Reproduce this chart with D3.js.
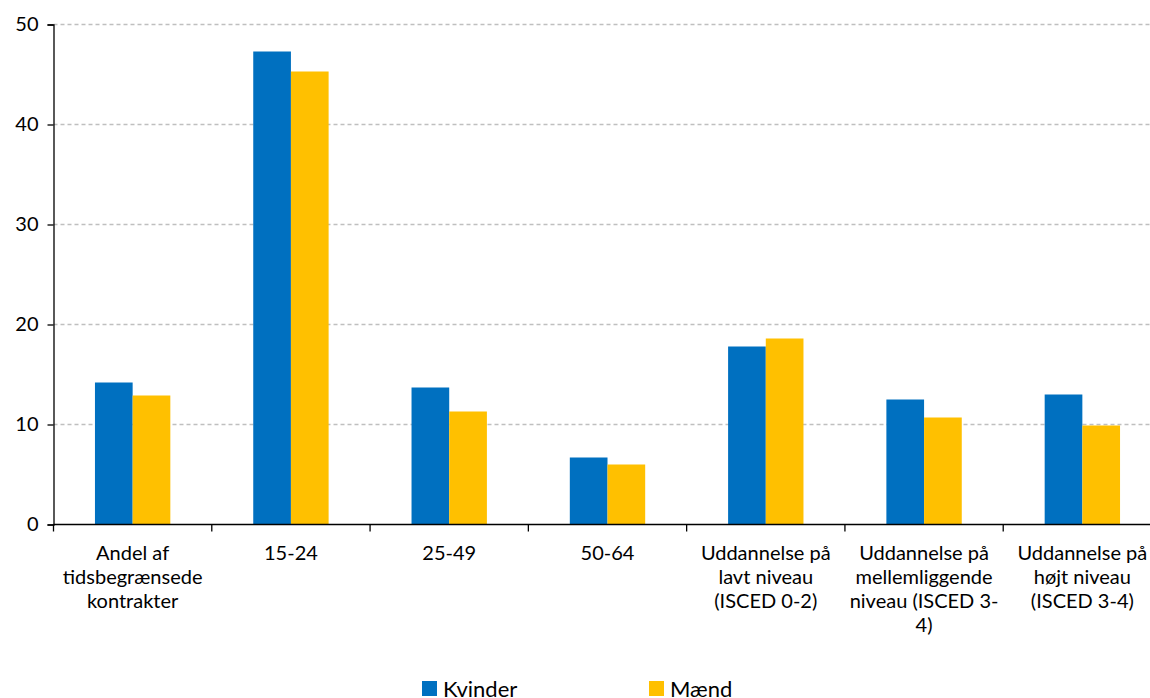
<!DOCTYPE html>
<html>
<head>
<meta charset="utf-8">
<script src="https://cdn.jsdelivr.net/npm/d3@7"></script>
<style>
  body { margin: 0; background: #fff; }
  svg { display: block; }
  text { font-family: Lato, "Open Sans", sans-serif; fill: #000; }
</style>
</head>
<body>
<svg id="chart" width="1150" height="698"></svg>
<script>
// Category labels (line-broken as they appear under the axis)
const categories = [
  ["Andel af", "tidsbegrænsede", "kontrakter"],
  ["15-24"],
  ["25-49"],
  ["50-64"],
  ["Uddannelse på", "lavt niveau", "(ISCED 0-2)"],
  ["Uddannelse på", "mellemliggende", "niveau (ISCED 3-", "4)"],
  ["Uddannelse på", "højt niveau", "(ISCED 3-4)"]
];
const seriesNames = ["Kvinder", "Mænd"];
const kvinder = [14.2, 47.3, 13.7, 6.7, 17.8, 12.5, 13.0];
const maend   = [12.9, 45.3, 11.3, 6.0, 18.6, 10.7, 9.9];
const yTicks = [0, 10, 20, 30, 40, 50];
const colors = ["#0070C0", "#FFC000"];

const svg = d3.select("#chart");
const plot = { left: 53.5, right: 1161.5, top: 24.5, bottom: 524.5 };

const x = d3.scaleBand()
  .domain(d3.range(categories.length))
  .range([plot.left, plot.right])
  .paddingInner(0).paddingOuter(0);

const inner = d3.scaleBand()
  .domain(seriesNames)
  .range([0, x.bandwidth()])
  .paddingInner(0)
  .paddingOuter(1.1);

const y = d3.scaleLinear().domain([0, 50]).range([plot.bottom, plot.top]);

// dashed horizontal gridlines
svg.append("g")
  .selectAll("line")
  .data(yTicks.filter(d => d > 0))
  .join("line")
  .attr("x1", plot.left).attr("x2", 1150)
  .attr("y1", d => y(d)).attr("y2", d => y(d))
  .attr("stroke", "#bfbfbf")
  .attr("stroke-width", 1.3)
  .attr("stroke-dasharray", "4,3");

// bars
const series = [kvinder, maend];
series.forEach((vals, si) => {
  svg.append("g")
    .selectAll("rect")
    .data(vals)
    .join("rect")
    .attr("x", (d, i) => x(i) + inner(seriesNames[si]))
    .attr("width", inner.bandwidth())
    .attr("y", d => y(d))
    .attr("height", d => plot.bottom - y(d))
    .attr("fill", colors[si]);
});

// y axis
const yAxis = svg.append("g")
  .attr("transform", `translate(${plot.left},0)`)
  .call(d3.axisLeft(y).tickValues(yTicks).tickSize(6).tickPadding(9).tickFormat(d3.format("d")));
yAxis.select(".domain").attr("stroke", "#000").attr("stroke-width", 1.3);
yAxis.selectAll(".tick line").attr("stroke", "#000").attr("stroke-width", 1.3);
yAxis.selectAll(".tick text")
  .style("font-family", "Lato, 'Open Sans', sans-serif")
  .style("font-size", "20px")
  .attr("fill", "#000");

// x axis line and category separators
const xAxis = svg.append("g");
xAxis.append("line")
  .attr("x1", plot.left).attr("x2", plot.right)
  .attr("y1", plot.bottom).attr("y2", plot.bottom)
  .attr("stroke", "#000").attr("stroke-width", 1.3);
xAxis.selectAll("line.sep")
  .data(d3.range(categories.length + 1))
  .join("line")
  .attr("class", "sep")
  .attr("x1", i => i < categories.length ? x(i) : plot.right)
  .attr("x2", i => i < categories.length ? x(i) : plot.right)
  .attr("y1", plot.bottom).attr("y2", plot.bottom + 7)
  .attr("stroke", "#000").attr("stroke-width", 1.3);

// category labels
const labels = xAxis.selectAll("text.cat")
  .data(categories)
  .join("text")
  .attr("class", "cat")
  .attr("text-anchor", "middle")
  .style("font-size", "20px");
labels.each(function(lines, i) {
  d3.select(this).selectAll("tspan")
    .data(lines)
    .join("tspan")
    .attr("x", x(i) + x.bandwidth() / 2)
    .attr("y", (d, j) => 560 + j * 24)
    .text(d => d);
});

// legend
const legendX = [422, 649];
const legend = svg.append("g");
seriesNames.forEach((name, si) => {
  legend.append("rect")
    .attr("x", legendX[si]).attr("y", 681)
    .attr("width", 15).attr("height", 15)
    .attr("fill", colors[si]);
  legend.append("text")
    .attr("x", legendX[si] + 21).attr("y", 697)
    .style("font-size", "22px")
    .text(name);
});
</script>
</body>
</html>
